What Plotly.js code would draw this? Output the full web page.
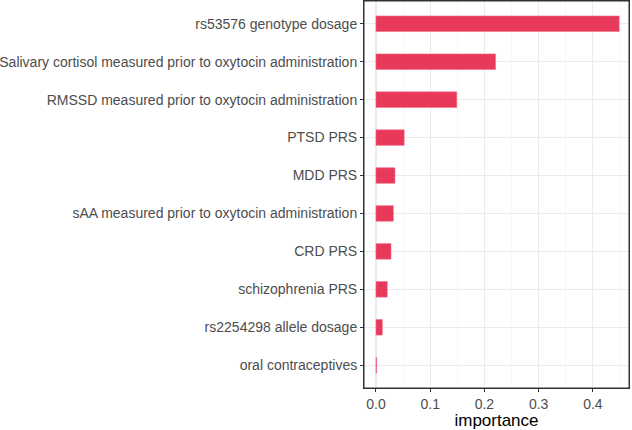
<!DOCTYPE html>
<html>
<head>
<meta charset="utf-8">
<script src="https://cdn.plot.ly/plotly-3.0.1.min.js"></script>
<style>html,body{margin:0;padding:0;background:#fff;}#chart{width:632px;height:430px;}</style>
</head>
<body>
<div id="chart"></div>
<script>
// categories listed bottom to top
const features = [
  "oral contraceptives",
  "rs2254298 allele dosage",
  "schizophrenia PRS",
  "CRD PRS",
  "sAA measured prior to oxytocin administration",
  "MDD PRS",
  "PTSD PRS",
  "RMSSD measured prior to oxytocin administration",
  "Salivary cortisol measured prior to oxytocin administration",
  "rs53576 genotype dosage"
];
const importance = [0.0012, 0.0117, 0.0208, 0.0277, 0.0320, 0.0350, 0.0520, 0.1490, 0.2205, 0.4485];
const xTicks = [0, 0.1, 0.2, 0.3, 0.4];
const xTickLabels = ["0.0", "0.1", "0.2", "0.3", "0.4"];
const xMinorTicks = [0.05, 0.15, 0.25, 0.35, 0.45];

const font = "Liberation Sans, Arial, Helvetica, sans-serif";

Plotly.newPlot("chart", [{
  type: "bar",
  orientation: "h",
  x: importance,
  y: features,
  width: 0.41,
  marker: {color: "#E8395A", line: {color: "#EE6D86", width: 0.6}},
  hoverinfo: "x+y"
}, {
  // invisible helper on second x axis to draw minor gridlines
  type: "scatter", mode: "markers",
  x: xMinorTicks, y: features.slice(0, xMinorTicks.length),
  xaxis: "x2", marker: {opacity: 0}, hoverinfo: "skip"
}], {
  width: 632, height: 430,
  margin: {l: 364, r: 3, t: 1, b: 42},
  paper_bgcolor: "#fff", plot_bgcolor: "#fff",
  showlegend: false,
  font: {family: font, color: "#4D4D4D", size: 14},
  xaxis2: {
    overlaying: "x", side: "bottom",
    range: [-0.0221, 0.4666],
    tickvals: xMinorTicks, showticklabels: false, ticks: "",
    showgrid: true, gridcolor: "#F3F3F3", gridwidth: 0.7,
    zeroline: false, showline: false
  },
  xaxis: {
    range: [-0.0221, 0.4666],
    tickvals: xTicks, ticktext: xTickLabels,
    ticks: "outside", ticklen: 3, tickcolor: "#333333", tickwidth: 1,
    tickfont: {family: font, size: 14, color: "#4D4D4D"},
    showgrid: true, gridcolor: "#EBEBEB", gridwidth: 1.1,
    zeroline: false,
    showline: true, mirror: true, linecolor: "#333333", linewidth: 1,
    title: {text: "importance", font: {family: font, size: 17, color: "#000"}, standoff: 0}
  },
  yaxis: {
    type: "category",
    categoryorder: "array", categoryarray: features,
    range: [-0.6, 9.6],
    ticks: "outside", ticklen: 3, tickcolor: "#333333", tickwidth: 1,
    tickfont: {family: font, size: 14, color: "#4D4D4D"},
    showgrid: true, gridcolor: "#EBEBEB", gridwidth: 1.1,
    zeroline: false,
    showline: true, mirror: true, linecolor: "#333333", linewidth: 1,
    automargin: false
  },
  shapes: [{
    type: "rect", xref: "paper", yref: "paper", x0: 0, x1: 1, y0: 0, y1: 1,
    line: {color: "#333333", width: 1}, fillcolor: "rgba(0,0,0,0)", layer: "above"
  }],
  bargap: 0.59
}, {displayModeBar: false, staticPlot: true});
</script>
</body>
</html>
